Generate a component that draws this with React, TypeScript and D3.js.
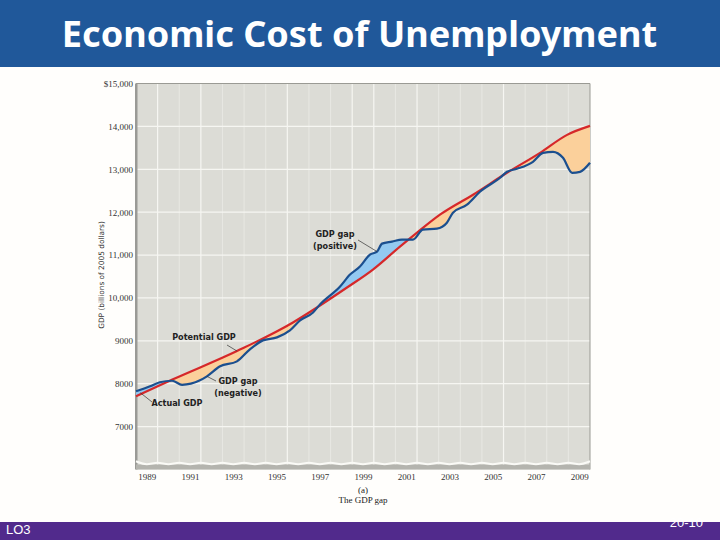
import { useEffect, useRef } from "react";
import * as d3 from "d3";

const title = "Economic Cost of Unemployment";

const actualYears = [1989, 1989.65, 1990.1, 1990.67, 1991.13, 1991.96, 1992.28, 1992.89, 1993.67, 1994.27, 1994.87, 1995.52, 1996.12, 1996.59, 1997.19, 1997.51, 1998.44, 1998.9, 1999.36, 1999.82, 2000.15, 2000.38, 2000.84, 2001.3, 2001.81, 2002.27, 2002.92, 2003.38, 2003.66, 2004.31, 2004.91, 2005.84, 2006.16, 2006.62, 2007.36, 2007.83, 2008.29, 2008.75, 2009.17, 2009.54, 2010];
const actualGdp = [7824, 7941, 8034, 8069, 7975, 8080, 8173, 8406, 8522, 8801, 9011, 9080, 9243, 9476, 9662, 9848, 10267, 10546, 10732, 11011, 11081, 11267, 11313, 11360, 11360, 11592, 11616, 11755, 11988, 12174, 12476, 12802, 12941, 13011, 13174, 13383, 13407, 13267, 12918, 12941, 13151];

const potentialYears = [1989, 1990.71, 1993.67, 1996.26, 1997.37, 1998.76, 1999.96, 2001.21, 2002, 2003.06, 2004.59, 2006.16, 2007.69, 2008.94, 2010];
const potentialGdp = [7708, 8103, 8762, 9429, 9778, 10243, 10662, 11197, 11523, 11941, 12407, 12918, 13383, 13802, 14011];

const yTicks = [15000, 14000, 13000, 12000, 11000, 10000, 9000, 8000, 7000];
const yTickLabels = ["$15,000", "14,000", "13,000", "12,000", "11,000", "10,000", "9000", "8000", "7000"];
const xTickYears = [1989, 1991, 1993, 1995, 1997, 1999, 2001, 2003, 2005, 2007, 2009];
const brightYears = [1990, 1992, 1996, 1999, 2000, 2002, 2006];
const fadedYears = [1991, 1993, 1994, 1995, 1997, 1998, 2001, 2003, 2004, 2005, 2007, 2008, 2009];

const sans = "'DejaVu Sans', sans-serif";
const serif = "'Liberation Serif', serif";

export default function App() {
    const chartRef = useRef<SVGSVGElement>(null);

    useEffect(() => {
        if (!chartRef.current) return;

        // Clear previous chart
        d3.select(chartRef.current).selectAll("*").remove();

        const svg = d3.select(chartRef.current);
        const plot = { left: 136, right: 590, top: 83.5, bottom: 469.5 };

        const x = d3.scaleLinear().domain([1989, 2010]).range([plot.left, plot.right]);
        const y = d3.scaleLinear().domain([6000, 15000]).range([plot.bottom, plot.top]);

        svg.append("rect").attr("width", 720).attr("height", 540).attr("fill", "#fffefc");

        // Header and footer bands
        svg.append("rect").attr("width", 720).attr("height", 67).attr("fill", "#20589a");
        svg.append("text")
            .attr("x", 359.5)
            .attr("y", 47)
            .attr("text-anchor", "middle")
            .attr("font-family", "'Noto Sans', sans-serif")
            .attr("font-weight", "bold")
            .attr("font-size", 36.1)
            .attr("fill", "#fff")
            .text(title);
        svg.append("rect").attr("y", 522).attr("width", 720).attr("height", 18).attr("fill", "#512a8c");
        svg.append("text")
            .attr("x", 6)
            .attr("y", 534)
            .attr("font-family", "'Liberation Sans', sans-serif")
            .attr("font-size", 13)
            .attr("fill", "#fff")
            .text("LO3");
        svg.append("text")
            .attr("x", 703)
            .attr("y", 527)
            .attr("text-anchor", "end")
            .attr("font-family", "'Liberation Sans', sans-serif")
            .attr("font-size", 13)
            .attr("fill", "#fff")
            .text("20-10");

        // Plot background and grid
        svg.append("rect")
            .attr("x", plot.left)
            .attr("y", plot.top)
            .attr("width", plot.right - plot.left)
            .attr("height", plot.bottom - plot.top)
            .attr("fill", "#dcdcd6");

        svg.selectAll(".faded")
            .data(fadedYears)
            .join("line")
            .attr("x1", (d) => x(d))
            .attr("x2", (d) => x(d))
            .attr("y1", plot.top)
            .attr("y2", plot.bottom)
            .attr("stroke", "#e8e8e3")
            .attr("stroke-width", 1);
        svg.selectAll(".bright")
            .data(brightYears)
            .join("line")
            .attr("x1", (d) => x(d))
            .attr("x2", (d) => x(d))
            .attr("y1", plot.top)
            .attr("y2", plot.bottom)
            .attr("stroke", "#f6f6f2")
            .attr("stroke-width", 1.2);
        svg.selectAll(".hgrid")
            .data(yTicks.slice(1))
            .join("line")
            .attr("x1", plot.left)
            .attr("x2", plot.right)
            .attr("y1", (d) => y(d))
            .attr("y2", (d) => y(d))
            .attr("stroke", "#f6f6f2")
            .attr("stroke-width", 1.2);

        // Frame, with the heavier left and bottom edges
        svg.append("path")
            .attr("d", `M${plot.left},${plot.top}H${plot.right}V${plot.bottom}`)
            .attr("fill", "none")
            .attr("stroke", "#9a9a94")
            .attr("stroke-width", 1);
        svg.append("rect")
            .attr("x", plot.left - 1)
            .attr("y", plot.top)
            .attr("width", 2.5)
            .attr("height", plot.bottom - plot.top)
            .attr("fill", "#9a9a96");

        // Broken-axis ripple along the bottom
        const wave = d3.line<number>()
            .x((d) => x(d))
            .y((_, i) => plot.bottom - 6 + (i % 2 ? 2.2 : -2.2))
            .curve(d3.curveBasis);
        svg.append("rect")
            .attr("x", plot.left)
            .attr("y", plot.bottom - 5)
            .attr("width", plot.right - plot.left)
            .attr("height", 5)
            .attr("fill", "#b4b4ae");
        svg.append("path")
            .attr("d", wave(d3.range(1989, 2010.01, 0.5)))
            .attr("fill", "none")
            .attr("stroke", "#fafaf6")
            .attr("stroke-width", 2);

        // Axes
        const yAxis = svg.append("g")
            .attr("transform", `translate(${plot.left - 3},0)`)
            .call(
                d3.axisLeft(y)
                    .tickValues(yTicks)
                    .tickSize(0)
                    .tickPadding(0)
                    .tickFormat((_, i) => yTickLabels[i])
            );
        yAxis.select(".domain").remove();
        yAxis.selectAll("text").attr("font-family", serif).attr("font-size", 9).attr("fill", "#333");

        const xAxis = svg.append("g")
            .attr("transform", `translate(0,${plot.bottom + 4})`)
            .call(
                d3.axisBottom(x)
                    .tickValues(xTickYears.map((d) => d + 0.5))
                    .tickSize(0)
                    .tickPadding(0)
                    .tickFormat((d) => String(Math.floor(+d)))
            );
        xAxis.select(".domain").remove();
        xAxis.selectAll("text").attr("font-family", serif).attr("font-size", 9).attr("fill", "#333");

        svg.append("text")
            .attr("transform", "translate(104,275) rotate(-90)")
            .attr("text-anchor", "middle")
            .attr("font-family", sans)
            .attr("font-size", 7.4)
            .attr("fill", "#333")
            .text("GDP (billions of 2005 dollars)");

        // Series
        const actual = actualYears.map((d, i): [number, number] => [d, actualGdp[i]]);
        const potential = potentialYears.map((d, i): [number, number] => [d, potentialGdp[i]]);

        const line = d3.line<[number, number]>()
            .x((d) => x(d[0]))
            .y((d) => y(d[1]))
            .curve(d3.curveMonotoneX);

        // Gap shapes: the region between both curves, clipped either side of potential GDP
        const gapPath = `${line(potential)}L${line([...actual].reverse())!.slice(1)}Z`;
        const above = d3.area<[number, number]>()
            .x((d) => x(d[0]))
            .y0(plot.top)
            .y1((d) => y(d[1]))
            .curve(d3.curveMonotoneX);
        const below = d3.area<[number, number]>()
            .x((d) => x(d[0]))
            .y0(plot.bottom)
            .y1((d) => y(d[1]))
            .curve(d3.curveMonotoneX);

        const defs = svg.append("defs");
        defs.append("clipPath").attr("id", "above-potential").append("path").attr("d", above(potential));
        defs.append("clipPath").attr("id", "below-potential").append("path").attr("d", below(potential));

        svg.append("path")
            .attr("d", gapPath)
            .attr("fill", "#93c9f1")
            .attr("fill-rule", "evenodd")
            .attr("clip-path", "url(#above-potential)");
        svg.append("path")
            .attr("d", gapPath)
            .attr("fill", "#fbd09b")
            .attr("fill-rule", "evenodd")
            .attr("clip-path", "url(#below-potential)");

        svg.append("path")
            .attr("d", line(potential))
            .attr("fill", "none")
            .attr("stroke", "#d6282a")
            .attr("stroke-width", 2.2);
        svg.append("path")
            .attr("d", line(actual))
            .attr("fill", "none")
            .attr("stroke", "#1b4f8f")
            .attr("stroke-width", 2.2);

        // Callouts
        const leader = (x1: number, y1: number, year: number, value: number) =>
            svg.append("line")
                .attr("x1", x1)
                .attr("y1", y1)
                .attr("x2", x(year))
                .attr("y2", y(value))
                .attr("stroke", "#333")
                .attr("stroke-width", 0.7);
        leader(358, 240, 2000.15, 11081);
        leader(227, 345, 1993.67, 8762);
        leader(216, 381, 1992.28, 8173);
        leader(152, 402, 1989.2, 7790);

        const callout = (cx: number, cy: number, text: string) =>
            svg.append("text")
                .attr("x", cx)
                .attr("y", cy)
                .attr("text-anchor", "middle")
                .attr("font-family", sans)
                .attr("font-weight", "bold")
                .attr("font-size", 8.1)
                .attr("fill", "#222")
                .text(text);
        callout(335, 237, "GDP gap");
        callout(335, 249, "(positive)");
        callout(204, 340, "Potential GDP");
        callout(238, 384, "GDP gap");
        callout(238, 396, "(negative)");
        callout(177, 406, "Actual GDP");

        // Caption
        const caption = (cy: number, text: string) =>
            svg.append("text")
                .attr("x", 363)
                .attr("y", cy)
                .attr("text-anchor", "middle")
                .attr("font-family", serif)
                .attr("font-size", 9)
                .attr("fill", "#222")
                .text(text);
        caption(493, "(a)");
        caption(503, "The GDP gap");
    }, []);

    return (
        <svg
            ref={chartRef}
            width={720}
            height={540}
            style={{ position: "fixed", left: 0, top: 0, display: "block" }}
        />
    );
}
